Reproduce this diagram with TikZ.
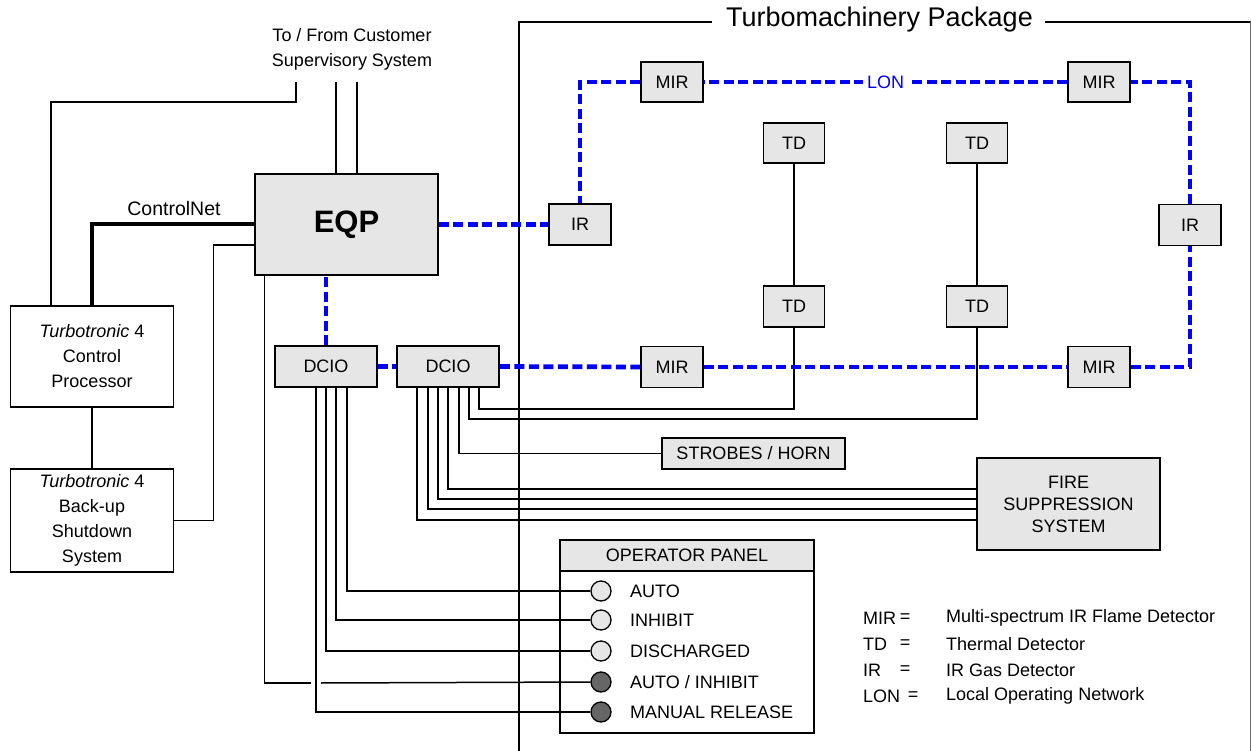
\documentclass[tikz,border=0pt]{standalone}
\usepackage{fontspec}
\setmainfont{Liberation Sans}
\definecolor{boxgray}{HTML}{E6E6E6}
\definecolor{darklamp}{HTML}{666666}
\begin{document}
\begin{tikzpicture}[x=1pt,y=-1pt,
  every node/.style={font=\fontsize{18}{25}\selectfont},
  box/.style={draw, line width=1.6pt, fill=boxgray, inner sep=0pt, align=center},
  wbox/.style={draw, line width=1.6pt, fill=white, inner sep=0pt, align=center},
  wire/.style={line width=1.5pt},
  cnet/.style={line width=4pt},
  lon/.style={draw=blue, line width=4.7pt, dash pattern=on 10pt off 4.5pt},
  pkg/.style={line width=2.3pt},
  lamp/.style={circle, draw, line width=1.3pt, minimum size=20pt, inner sep=0pt, fill=boxgray},
  dlamp/.style={lamp, fill=darklamp},
  lbl/.style={anchor=west, inner sep=0pt},
  eqs/.style={inner sep=0pt}
]
\useasboundingbox (0,0) rectangle (1251,751);

% package frame
\node[inner sep=0pt, font=\fontsize{27}{27}\selectfont] (pt) at (879.5,20) {Turbomachinery Package};
\coordinate (tl) at (519,22);
\coordinate (tr) at (1251,22);
\coordinate (bl) at (519,751);
\draw[pkg] (bl) -- (tl) -- ([xshift=-14pt]tl -| pt.west);
\draw[pkg] ([xshift=12pt]pt.east |- tl) -- (tr);
\coordinate (rt) at (1250,22);
\coordinate (rb) at (1250,751);
\draw[line width=1pt, black!60] (rt) -- (rb);

% nodes
\node[align=center] (sup) at (352,49.5) {To / From Customer\\Supervisory System};
\node[box, minimum width=183pt, minimum height=101pt, font=\bfseries\fontsize{31}{31}\selectfont] (eqp) at (346.5,224.5) {EQP};
\node[wbox, minimum width=163pt, minimum height=101pt] (cp) at (92,356.5) {\textit{Turbotronic} 4\\Control\\Processor};
\node[wbox, minimum width=163pt, minimum height=103pt] (bu) at (92,520.5) {\textit{Turbotronic} 4\\Back-up\\Shutdown\\System};
\node[font=\fontsize{19.5}{22}\selectfont] (cnl) at (174,209) {ControlNet};

\node[box, minimum width=102pt, minimum height=41pt] (dcio1) at (326,366.5) {DCIO};
\node[box, minimum width=102pt, minimum height=41pt] (dcio2) at (448,366.5) {DCIO};

\node[box, minimum width=62pt, minimum height=41pt] (irL) at (580,224.5) {IR};
\node[box, minimum width=62pt, minimum height=41pt] (irR) at (1190,225) {IR};
\node[box, minimum width=62pt, minimum height=40pt] (mirTL) at (672,82) {MIR};
\node[box, minimum width=62pt, minimum height=40pt] (mirTR) at (1099,82) {MIR};
\node[box, minimum width=61pt, minimum height=40pt] (td1a) at (794,143) {TD};
\node[box, minimum width=61pt, minimum height=41pt] (td1b) at (794,306.5) {TD};
\node[box, minimum width=61pt, minimum height=40pt] (td2a) at (977,143) {TD};
\node[box, minimum width=61pt, minimum height=41pt] (td2b) at (977,306.5) {TD};

\node[box, minimum width=183pt, minimum height=31pt] (strobes) at (753.5,453.5) {STROBES / HORN};
\node[box, minimum width=183pt, minimum height=92pt, font=\fontsize{18}{22}\selectfont] (fire) at (1068.5,504) {FIRE\\SUPPRESSION\\SYSTEM};

% operator panel
\node[wbox, minimum width=254pt, minimum height=193pt] (op) at (687,636.5) {};
\node[box, minimum width=254pt, minimum height=31pt] (oph) at (687,555.5) {OPERATOR PANEL};
\node[lamp] (c1) at (601,591) {};
\node[lamp] (c2) at (601,620) {};
\node[lamp] (c3) at (601,651) {};
\node[dlamp] (c4) at (601,682) {};
\node[dlamp] (c5) at (601,712) {};
\node[lbl] (l1) at (630,591) {AUTO};
\node[lbl] (l2) at (630,620) {INHIBIT};
\node[lbl] (l3) at (630,651) {DISCHARGED};
\node[lbl] (l4) at (630,682) {AUTO / INHIBIT};
\node[lbl] (l5) at (630,712) {MANUAL RELEASE};

% legend
\node[lbl] (k1) at (863,618) {MIR};
\node[lbl] (k2) at (863,644) {TD};
\node[lbl] (k3) at (863,670) {IR};
\node[lbl] (k4) at (863,696) {LON};
\node[eqs] (e1) at (905,618) {=};
\node[eqs] (e2) at (905,644) {=};
\node[eqs] (e3) at (905,670) {=};
\node[eqs] (e4) at (913,696) {=};
\node[lbl] (d1) at (946,618) {Multi-spectrum IR Flame Detector};
\node[lbl] (d2) at (946,644) {Thermal Detector};
\node[lbl] (d3) at (946,670) {IR Gas Detector};
\node[lbl] (d4) at (946,696) {Local Operating Network};

% supervisory connections
\coordinate (s1) at (296,82);
\coordinate (s2) at (336,82);
\coordinate (s3) at (357,82);
\draw[wire] (s1) -- ++(0,20) -| ([xshift=-41pt]cp.north);
\draw[wire] (s2) -- (s2 |- eqp.north);
\draw[wire] (s3) -- (s3 |- eqp.north);

% controlnet and backup
\draw[cnet] (eqp.west) -| (cp.north);
\draw[wire] ([yshift=-20.5pt]eqp.west) -| ([xshift=39pt]bu.east) -- (bu.east);
\draw[wire] (cp.south) -- (bu.north);

% EQP to AUTO / INHIBIT with crossing gap
\coordinate (g1) at (311,683);
\coordinate (g2) at (321,683);
\draw[wire] ([xshift=-82pt]eqp.south) |- (g1);
\draw[wire] (g2) -- (c4.west);

% DCIO1 to operator panel
\draw[wire] ([xshift=21pt]dcio1.south) |- (c1.west);
\draw[wire] ([xshift=10pt]dcio1.south) |- (c2.west);
\draw[wire] (dcio1.south) |- (c3.west);
\draw[wire] ([xshift=-10pt]dcio1.south) |- (c5.west);

% DCIO2 outputs
\draw[wire] ([xshift=31pt]dcio2.south) -- ++(0,21) -| (td1b.south);
\draw[wire] ([xshift=21pt]dcio2.south) -- ++(0,31) -| (td2b.south);
\draw[wire] ([xshift=11pt]dcio2.south) |- (strobes.west);
\draw[wire] (dcio2.south) |- ([yshift=15pt]fire.west);
\draw[wire] ([xshift=-10pt]dcio2.south) |- ([yshift=5pt]fire.west);
\draw[wire] ([xshift=-20pt]dcio2.south) |- ([yshift=-5pt]fire.west);
\draw[wire] ([xshift=-31pt]dcio2.south) |- ([yshift=-16pt]fire.west);

% TD pairs
\draw[wire] (td1a) -- (td1b);
\draw[wire] (td2a) -- (td2b);

% LON network
\node[box, minimum width=62pt, minimum height=41pt] (mirBL) at (672,367) {MIR};
\node[box, minimum width=62pt, minimum height=41pt] (mirBR) at (1099,367) {MIR};
\draw[lon] (eqp.east) -- (irL.west);
\draw[lon] (dcio1.north) -- (dcio1.north |- eqp.south);
\draw[lon] (dcio1.east) -- (dcio2.west);
\draw[lon] (dcio2.east) -- (mirBL.west);
\draw[lon] (mirBL.east) -- (mirBR.west);
\draw[lon] (mirBR.east) -| (irR.south);
\draw[lon] (irR.north) |- (mirTR.east);
\draw[lon] (mirTR.west) -- (mirTL.east) node[midway, fill=white, text=blue, inner xsep=4pt, inner ysep=1pt] (lonl) {LON};
\draw[lon] (mirTL.west) -| (irL.north);
\end{tikzpicture}
\end{document}
